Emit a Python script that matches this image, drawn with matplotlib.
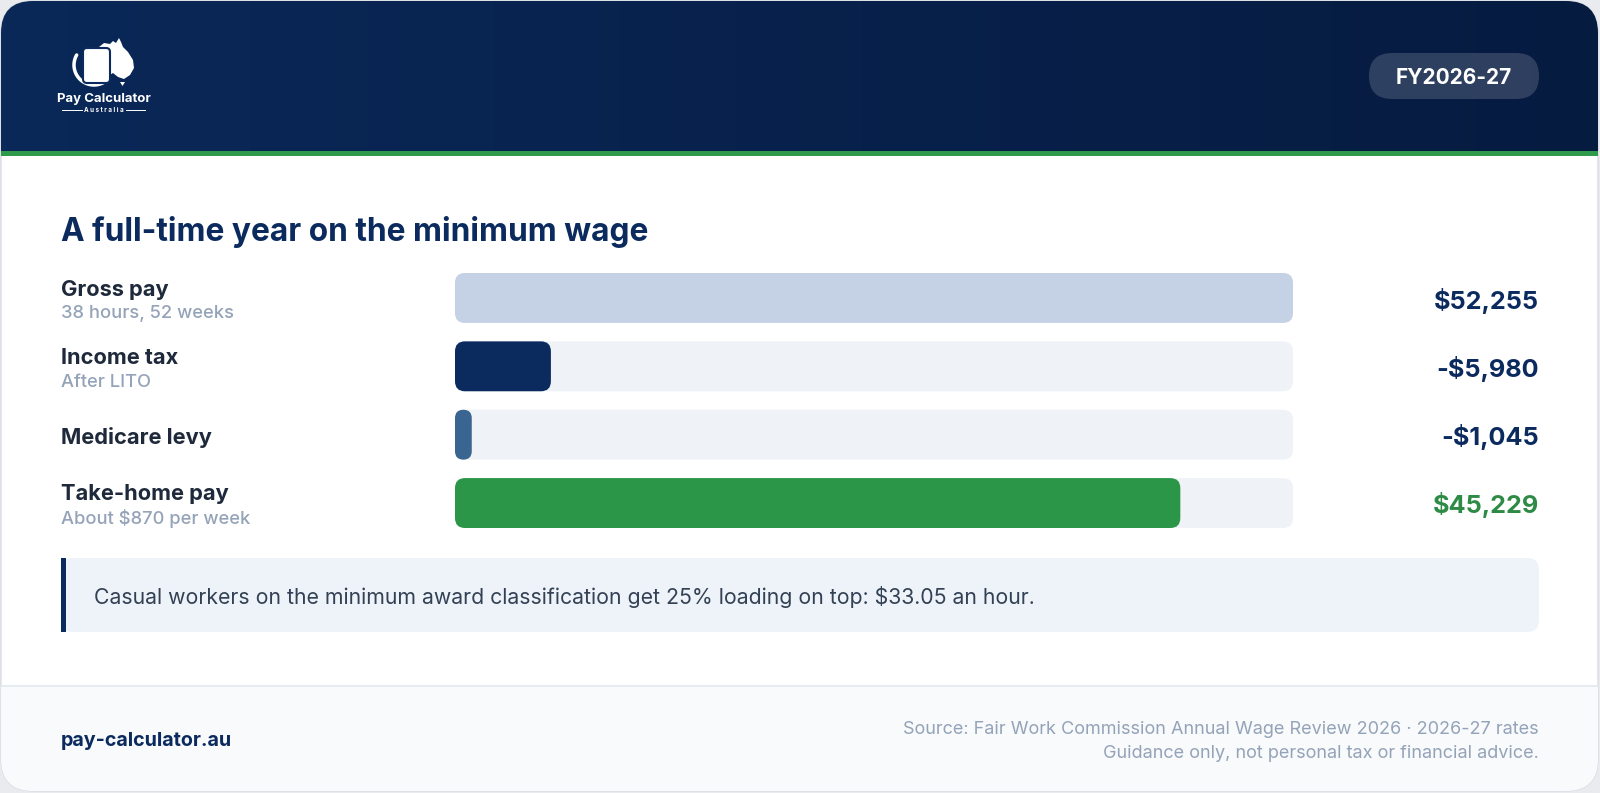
import numpy as np
import matplotlib
matplotlib.use("Agg")
import matplotlib.pyplot as plt
from matplotlib.patches import FancyBboxPatch, Rectangle, Polygon
from matplotlib.colors import LinearSegmentedColormap

plt.rcParams['font.family'] = ['Inter', 'DejaVu Sans']

# data
labels = ["Gross pay", "Income tax", "Medicare levy", "Take-home pay"]
sublabels = ["38 hours, 52 weeks", "After LITO", "", "About $870 per week"]
amounts = [52255, 5980, 1045, 45229]
value_text = ["$52,255", "-$5,980", "-$1,045", "$45,229"]
title = "A full-time year on the minimum wage"
badge = "FY2026-27"
note = "Casual workers on the minimum award classification get 25% loading on top: $33.05 an hour."
site = "pay-calculator.au"
source_lines = ["Source: Fair Work Commission Annual Wage Review 2026 · 2026-27 rates",
                "Guidance only, not personal tax or financial advice."]

navy = "#0b2a5e"
green = "#2b9648"
bar_colors = ["#c5d2e5", navy, "#3a6591", green]
value_colors = [navy, navy, navy, "#2e8b45"]
track = "#eff3f7"

W, H = 1600, 793
dy = 2.5  # small baseline nudge for text
fig = plt.figure(figsize=(16, 7.93), dpi=100, facecolor="#e9ebef")
ax = fig.add_axes([0, 0, 1, 1])
ax.set_xlim(0, W)
ax.set_ylim(H, 0)
ax.axis("off")

# card
card = FancyBboxPatch((1, 1), W - 3, H - 3, boxstyle="round,pad=0,rounding_size=32",
                      fc="white", ec="#d9dde3", lw=1, zorder=0)
ax.add_patch(card)

# header gradient
cmap = LinearSegmentedColormap.from_list("hdr", ["#0a2858", "#061b40"])
grad = np.linspace(0, 1, 256).reshape(1, -1)
im = ax.imshow(grad, cmap=cmap, extent=[0, W, 152, 0], aspect="auto", zorder=1)
im.set_clip_path(card)
stripe = Rectangle((0, 151), W, 5, fc="#2e9a4a", ec="none", zorder=2)
ax.add_patch(stripe)
stripe.set_clip_path(card)

# footer
foot = Rectangle((0, 686), W, H - 686, fc="#f8fafc", ec="none", zorder=1)
ax.add_patch(foot)
foot.set_clip_path(card)
ax.plot([2, W - 3], [686, 686], color="#e2e8f0", lw=1.2, zorder=2)

# logo
oz = [(99, 47), (104, 43), (110, 44), (113, 41), (116, 43), (119, 38), (121, 42),
      (123, 47), (128, 52), (133, 60), (134, 68), (130, 75), (124, 79), (118, 77),
      (113, 73), (108, 76), (103, 76), (100, 72), (99, 62)]
ax.add_patch(Polygon(oz, closed=True, fc="white", ec="none", zorder=3))
ax.add_patch(Polygon([(120, 82), (125, 82), (122.5, 86)], fc="white", ec="none", zorder=3))
t = np.linspace(np.radians(150), np.radians(300), 60)
ax.plot(94 + 20 * np.cos(t), 65 - 20 * np.sin(t), color="white", lw=2.5,
        solid_capstyle="round", zorder=3)
ax.add_patch(FancyBboxPatch((83, 48), 27, 35, boxstyle="round,pad=0,rounding_size=4",
                            fc="white", ec=navy, lw=1.5, zorder=4))
ax.text(104, 99, "Pay Calculator", color="white", fontsize=9.5, fontweight="bold",
        ha="center", va="center", zorder=4)
ax.text(104, 110, "A u s t r a l i a", color="white", fontsize=4.5, fontweight="bold",
        ha="center", va="center", zorder=4)
ax.plot([62, 82], [110, 110], color="white", lw=0.7, zorder=4)
ax.plot([126, 145], [110, 110], color="white", lw=0.7, zorder=4)

# badge
ax.add_patch(FancyBboxPatch((1369, 53), 170, 46, boxstyle="round,pad=0,rounding_size=23",
                            fc="white", alpha=0.16, ec="none", zorder=3))
ax.text(1454, 76 + dy, badge, color="white", fontsize=15, fontweight="bold",
        ha="center", va="center", zorder=4)

# title
ax.text(61, 229 + dy, title, color=navy, fontsize=22.8, fontweight="bold", va="center")

# row labels and values
row_y = [298, 367, 435, 503]
for i, lab in enumerate(labels):
    if sublabels[i]:
        ax.text(61, row_y[i] - 11 + dy, lab, color="#1e293b", fontsize=15.7, fontweight="bold", va="center")
        ax.text(61, row_y[i] + 13 + dy, sublabels[i], color="#94a3b8", fontsize=13.2, fontweight="medium", va="center")
    else:
        ax.text(61, row_y[i] + dy, lab, color="#1e293b", fontsize=15.7, fontweight="bold", va="center")
    ax.text(1539, row_y[i] + dy, value_text[i], color=value_colors[i], fontsize=18.2,
            fontweight="bold", ha="right", va="center")

# bars
bx0, bx1, by0, by1 = 455, 1293, 273, 528
bar_h = 0.73
n = len(amounts)
bax = fig.add_axes([bx0 / W, 1 - by1 / H, (bx1 - bx0) / W, (by1 - by0) / H])
bax.set_xlim(0, amounts[0])
bax.set_ylim(n - 1 + bar_h / 2, -bar_h / 2)
bax.axis("off")
x_per_px = amounts[0] / (bx1 - bx0)
y_per_px = (n - 1 + bar_h) / (by1 - by0)
asp = y_per_px / x_per_px
rad = 10 * x_per_px
for i, v in enumerate(amounts):
    bax.add_patch(FancyBboxPatch((0, i - bar_h / 2), amounts[0], bar_h,
                                 boxstyle=f"round,pad=0,rounding_size={rad}",
                                 mutation_aspect=asp, fc=track, ec="none"))
    r = min(rad, v / 2)
    bax.add_patch(FancyBboxPatch((0, i - bar_h / 2), v, bar_h,
                                 boxstyle=f"round,pad=0,rounding_size={r}",
                                 mutation_aspect=asp, fc=bar_colors[i], ec="none"))

# callout
ax.add_patch(FancyBboxPatch((61, 558), 1478, 74, boxstyle="round,pad=0,rounding_size=12",
                            fc="#eef3f9", ec="none", zorder=1))
ax.add_patch(Rectangle((61, 558), 5, 74, fc=navy, ec="none", zorder=2))
ax.text(94, 595 + dy, note, color="#334155", fontsize=15.3, va="center", zorder=3)

# footer text
ax.text(61, 739 + dy, site, color=navy, fontsize=14.2, fontweight="bold", va="center", zorder=3)
ax.text(1539, 727 + dy, source_lines[0], color="#94a3b8", fontsize=13, ha="right", va="center", zorder=3)
ax.text(1539, 751 + dy, source_lines[1], color="#94a3b8", fontsize=13, ha="right", va="center", zorder=3)

fig.savefig("out.png", dpi=100, facecolor=fig.get_facecolor())
